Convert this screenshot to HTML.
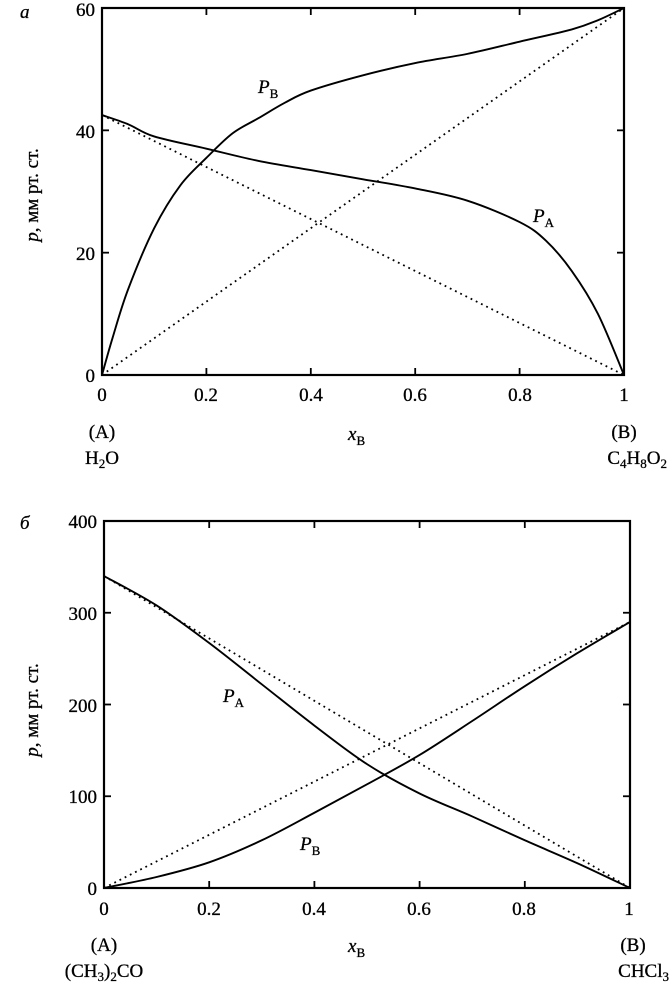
<!DOCTYPE html>
<html><head><meta charset="utf-8"><style>
body{margin:0;background:#fff;}
svg{display:block;font-family:"Liberation Serif",serif;}
text{fill:#000;stroke:#000;stroke-width:0.3;}
</style></head><body>
<svg id="s" width="669" height="1001" viewBox="0 0 669 1001" xmlns="http://www.w3.org/2000/svg">
<g font-size="19">
<text x="20" y="18" font-style="italic">a</text>
<text x="95" y="16" text-anchor="end">60</text>
<text x="95" y="138" text-anchor="end">40</text>
<text x="95" y="260" text-anchor="end">20</text>
<text x="95" y="382" text-anchor="end">0</text>
<text x="102" y="401" text-anchor="middle">0</text>
<text x="206" y="401" text-anchor="middle">0.2</text>
<text x="311" y="401" text-anchor="middle">0.4</text>
<text x="415" y="401" text-anchor="middle">0.6</text>
<text x="520" y="401" text-anchor="middle">0.8</text>
<text x="624" y="401" text-anchor="middle">1</text>
<text x="102" y="438" text-anchor="middle">(A)</text>
<text x="102" y="464" text-anchor="middle">H<tspan font-size="13" dy="4">2</tspan><tspan dy="-4">O</tspan></text>
<text x="624" y="438" text-anchor="middle">(B)</text>
<text x="667" y="464" text-anchor="end">C<tspan font-size="13" dy="4">4</tspan><tspan dy="-4">H</tspan><tspan font-size="13" dy="4">8</tspan><tspan dy="-4">O</tspan><tspan font-size="13" dy="4">2</tspan></text>
<text x="348" y="440" font-style="italic">x<tspan font-size="13" dy="5" font-style="normal">B</tspan></text>
<text transform="translate(38,195) rotate(-90)" text-anchor="middle"><tspan font-style="italic">p</tspan>, мм рт. ст.</text>
<text x="258" y="93" font-style="italic">P<tspan font-size="13" dy="5" font-style="normal">B</tspan></text>
<text x="533" y="222" font-style="italic">P<tspan font-size="13" dy="5" font-style="normal">A</tspan></text>
<text x="20" y="529" font-style="italic">б</text>
<text x="97" y="528" text-anchor="end">400</text>
<text x="97" y="620" text-anchor="end">300</text>
<text x="97" y="712" text-anchor="end">200</text>
<text x="97" y="803" text-anchor="end">100</text>
<text x="97" y="895" text-anchor="end">0</text>
<text x="104" y="915" text-anchor="middle">0</text>
<text x="209" y="915" text-anchor="middle">0.2</text>
<text x="314" y="915" text-anchor="middle">0.4</text>
<text x="419" y="915" text-anchor="middle">0.6</text>
<text x="524" y="915" text-anchor="middle">0.8</text>
<text x="629" y="915" text-anchor="middle">1</text>
<text x="104" y="951" text-anchor="middle">(A)</text>
<text x="104" y="977" text-anchor="middle">(CH<tspan font-size="13" dy="4">3</tspan><tspan dy="-4">)</tspan><tspan font-size="13" dy="4">2</tspan><tspan dy="-4">CO</tspan></text>
<text x="633" y="951" text-anchor="middle">(B)</text>
<text x="669" y="977" text-anchor="end">CHCl<tspan font-size="13" dy="4">3</tspan></text>
<text x="348" y="952" font-style="italic">x<tspan font-size="13" dy="5" font-style="normal">B</tspan></text>
<text transform="translate(38,710) rotate(-90)" text-anchor="middle"><tspan font-style="italic">p</tspan>, мм рт. ст.</text>
<text x="223" y="702" font-style="italic">P<tspan font-size="13" dy="5" font-style="normal">A</tspan></text>
<text x="300" y="850" font-style="italic">P<tspan font-size="13" dy="5" font-style="normal">B</tspan></text>
</g>
<g id="plots" fill="none" stroke="#000"></g>
</svg>
<script>
const g=document.getElementById('plots');
function add(tag,attrs){const e=document.createElementNS('http://www.w3.org/2000/svg',tag);for(const k in attrs)e.setAttribute(k,attrs[k]);g.appendChild(e);}
function spline(pts){let d='M'+pts[0][0]+','+pts[0][1];for(let i=0;i<pts.length-1;i++){const p0=pts[i-1]||pts[i],p1=pts[i],p2=pts[i+1],p3=pts[i+2]||p2;const c1=[p1[0]+(p2[0]-p0[0])/6,p1[1]+(p2[1]-p0[1])/6],c2=[p2[0]-(p3[0]-p1[0])/6,p2[1]-(p3[1]-p1[1])/6];d+=' C'+c1+' '+c2+' '+p2;}return d;}
function chart(x0,x1,yb,yt,ymax,ystep,curves,dots){
 const X=v=>x0+(x1-x0)*v, Y=v=>yb-(yb-yt)*v/ymax;
 add('rect',{x:x0,y:yt,width:x1-x0,height:yb-yt,'stroke-width':2.2});
 for(let i=1;i<5;i++){const x=X(i*0.2);add('line',{x1:x,y1:yb,x2:x,y2:yb-7,'stroke-width':1.8});add('line',{x1:x,y1:yt,x2:x,y2:yt+7,'stroke-width':1.8});}
 for(let v=ystep;v<ymax;v+=ystep){const y=Y(v);add('line',{x1:x0,y1:y,x2:x0+7,y2:y,'stroke-width':1.8});add('line',{x1:x1,y1:y,x2:x1-7,y2:y,'stroke-width':1.8});}
 dots.forEach(d=>add('line',{x1:X(d[0]),y1:Y(d[1]),x2:X(d[2]),y2:Y(d[3]),'stroke-width':1.8,'stroke-dasharray':'1.8 4'}));
 curves.forEach(c=>add('path',{d:spline(c.map(p=>[X(p[0]),Y(p[1])])),'stroke-width':1.9}));
}
chart(102,624,375,8,60,20,[
 [[0,0],[0.02,6],[0.05,14],[0.1,24],[0.15,31],[0.2,35.5],[0.25,39.5],[0.3,42],[0.35,44.5],[0.4,46.5],[0.5,49],[0.6,51],[0.7,52.5],[0.8,54.5],[0.9,56.5],[0.95,58],[1,60]],
 [[0,42.5],[0.05,41],[0.1,39],[0.2,37],[0.3,35],[0.4,33.5],[0.5,32],[0.6,30.5],[0.7,28.5],[0.8,25],[0.85,22],[0.9,17],[0.95,10],[1,0]]
],[[0,42.5,1,0],[0,0,1,60]]);
chart(104,630,888,521,400,100,[
 [[0,340],[0.1,308],[0.2,267],[0.3,222],[0.4,177],[0.5,135],[0.6,103],[0.7,78],[0.8,52],[0.9,27],[1,0]],
 [[0,0],[0.1,12],[0.2,28],[0.3,52],[0.4,82],[0.5,113],[0.6,145],[0.7,182],[0.8,220],[0.9,256],[1,290]]
],[[0,340,1,0],[0,0,1,290]]);
</script>
</body></html>
